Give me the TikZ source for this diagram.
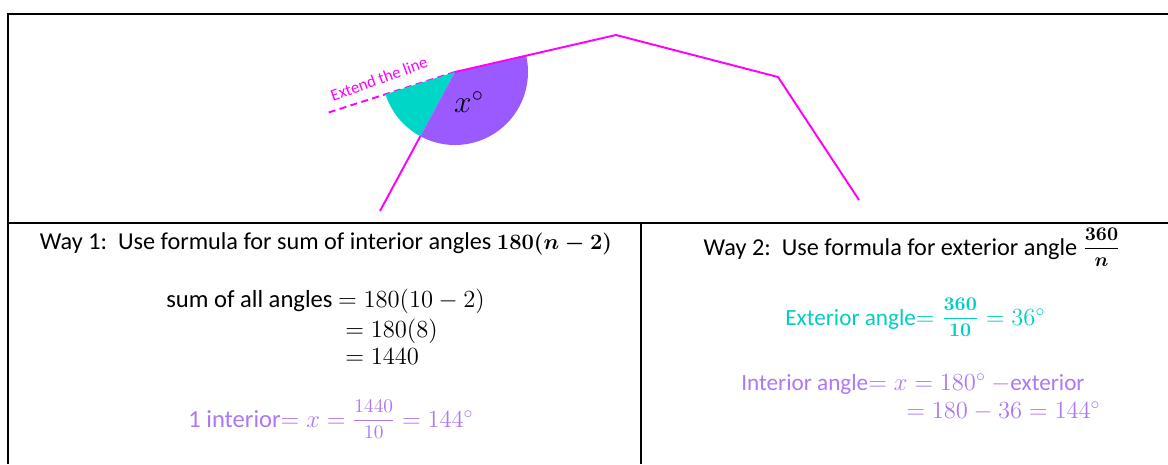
\documentclass[tikz,border=0pt]{standalone}
\usepackage{fix-cm}
\usepackage{amsmath}
\usepackage{fontspec}
\setmainfont{Carlito}
\newcommand{\midfrac}[2]{\raisebox{0.8pt}{\fontsize{11}{12}\selectfont$\dfrac{#1}{#2}$}}
\definecolor{polypink}{RGB}{255,0,255}
\definecolor{extteal}{RGB}{0,214,200}
\definecolor{intpurple}{RGB}{155,90,255}
\definecolor{tealtext}{RGB}{0,206,194}
\definecolor{lilactext}{RGB}{172,120,245}
\usetikzlibrary{calc}
\tikzset{
  tabline/.style={line width=1.2pt, black},
  pline/.style={line width=1.1pt, polypink},
  wayhead/.style={font=\fontsize{13.8}{17}\selectfont, anchor=base, inner sep=0pt},
  wline/.style={font=\fontsize{14}{17}\selectfont, anchor=base west, inner sep=0pt, text=#1},
  wline/.default=black,
  rline/.style={font=\fontsize{13.2}{16}\selectfont, anchor=base west, inner sep=0pt, text=#1},
}

\begin{document}
\begin{tikzpicture}[x=0.02cm, y=0.02cm]
  \useasboundingbox (0,0) rectangle (1168,464);

  % The table lines
  \draw[tabline] (1168,450) -- (8,450) -- (8,0);
  \draw[tabline] (8,241) -- (1168,241);
  \draw[tabline] (641,241) -- (641,0);

  % The polygon
  \coordinate (vtx) at (455,392);
  \coordinate (low) at (380,253);
  \coordinate (peak) at (616,429);
  \coordinate (rvtx) at (778,387);
  \coordinate (rend) at (859,264);
  \coordinate (ext) at (327,351);

  \draw[pline, dash pattern=on 4pt off 2.5pt] (vtx) -- (ext);
  \fill[extteal] (vtx) -- ++(197.76:73) arc[start angle=197.76, end angle=241.65, radius=73] -- cycle;
  \fill[intpurple] (vtx) -- ++(-118.35:73) arc[start angle=-118.35, end angle=12.94, radius=73] -- cycle;
  \coordinate (arcpt) at ($(vtx)+(241.65:73)$);
  \draw[pline] (low) -- (arcpt);
  \draw[pline] (vtx) -- (peak) -- (rvtx) -- (rend);

  \node[font=\fontsize{9.5}{11}\selectfont, text=polypink, rotate=20] (extlbl) at (379,385) {Extend the line};
  \node[font=\fontsize{18}{20}\selectfont] (xlbl) at (469,362) {$x^\circ$};

  % Way 1
  \node[wayhead] (way1) at (326,215) {Way 1:\ \ Use formula for sum of interior angles {\fontsize{12.5}{14}\selectfont$\boldsymbol{180(n-2)}$}};
  \node[wline] (sum1) at (166,157) {sum of all angles $= 180(10-2)$};
  \node[wline] (sum2) at (345,127) {$= 180(8)$};
  \node[wline] (sum3) at (345,100) {$= 1440$};
  \node[wline=lilactext] (int1) at (188,37) {1 interior$=x=\midfrac{1440}{10}=144^\circ$};

  % Way 2
  \node[wayhead] (way2) at (912,209) {Way 2:\ \ Use formula for exterior angle $\midfrac{\boldsymbol{360}}{\boldsymbol{n}}$};
  \node[rline=tealtext] (ext1) at (785,139) {Exterior angle{\fontsize{14}{17}\selectfont$=\midfrac{\boldsymbol{360}}{\boldsymbol{10}}=36^\circ$}};
  \node[rline=lilactext] (int2) at (741,74) {Interior angle{\fontsize{14}{17}\selectfont$=x=180^\circ$ $-$}exterior};
  \node[wline=lilactext] (int3) at (906,46) {$=180-36=144^\circ$};

\end{tikzpicture}
\end{document}
